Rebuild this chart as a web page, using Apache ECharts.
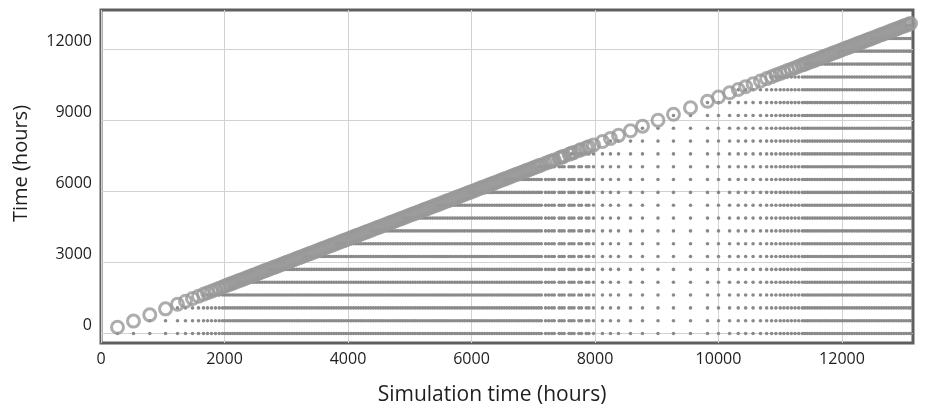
<!DOCTYPE html>
<html>
<head>
<meta charset="utf-8">
<script src="https://cdn.jsdelivr.net/npm/echarts@6/dist/echarts.min.js"></script>
<style>
  html, body { margin: 0; padding: 0; background: #fff; }
  #chart { width: 936px; height: 411px; }
</style>
</head>
<body>
<div id="chart"></div>
<script>
// Simulation times (hours) at which the state was recorded
const sampleTimes = [
  267, 526, 790, 1045, 1239, 1368, 1482, 1579, 1660, 1725, 1790, 1854, 1915, 1970,
  2010, 2050, 2090, 2130, 2170, 2210, 2250, 2290, 2330, 2370,
  2410, 2450, 2490, 2530, 2570, 2610, 2650, 2690, 2730, 2770,
  2810, 2850, 2890, 2930, 2970, 3010, 3050, 3090, 3130, 3170,
  3210, 3250, 3290, 3330, 3370, 3410, 3450, 3490, 3530, 3570,
  3610, 3650, 3690, 3730, 3770, 3810, 3850, 3890, 3930, 3970,
  4010, 4050, 4090, 4130, 4170, 4210, 4250, 4290, 4330, 4370,
  4410, 4450, 4490, 4530, 4570, 4610, 4650, 4690, 4730, 4770,
  4810, 4850, 4890, 4930, 4970, 5010, 5050, 5090, 5130, 5170,
  5210, 5250, 5290, 5330, 5370, 5410, 5450, 5490, 5530, 5570,
  5610, 5650, 5690, 5730, 5770, 5810, 5850, 5890, 5930, 5970,
  6010, 6050, 6090, 6130, 6170, 6210, 6250, 6290, 6330, 6370,
  6410, 6450, 6490, 6530, 6570, 6610, 6650, 6690, 6730, 6770,
  6810, 6850, 6890, 6930, 6970, 7010, 7050, 7090, 7130,
  7200, 7250, 7300, 7340, 7420, 7460, 7500, 7580, 7620, 7660, 7740, 7780, 7860, 7900, 7976,
  8121, 8251, 8381, 8575, 8769, 9020, 9271, 9547, 9822, 10000,
  10180, 10320, 10440, 10560, 10680, 10780, 10860, 10930, 11000, 11060,
  11120, 11180, 11240, 11300, 11360,
  11400, 11440, 11480, 11520, 11560, 11600, 11640, 11680, 11720, 11760,
  11800, 11840, 11880, 11920, 11960, 12000, 12040, 12080, 12120, 12160,
  12200, 12240, 12280, 12320, 12360, 12400, 12440, 12480, 12520, 12560,
  12600, 12640, 12680, 12720, 12760, 12800, 12840, 12880, 12920, 12960,
  13000, 13040, 13080, 13110
];

// Recorded time levels (hours)
const timeLevels = [
  0, 542, 1085, 1627, 2170, 2712, 3255, 3797, 4340, 4882, 5425, 5967, 6510,
  7052, 7595, 8137, 8680, 9222, 9765, 10307, 10850, 11392, 11935, 12477, 13020
];

// Axis tick values
const xTicks = [0, 2000, 4000, 6000, 8000, 10000, 12000];
const yTicks = [0, 3000, 6000, 9000, 12000];

// Current time at each sample: lies on the diagonal
const currentPoints = sampleTimes.map(t => [t, t]);

// Earlier time levels already reached at each sample
const levelPoints = [];
sampleTimes.forEach(t => {
  timeLevels.forEach(L => {
    if (L < t) levelPoints.push([t, L]);
  });
});

const chart = echarts.init(document.getElementById('chart'), null, { renderer: 'canvas' });

const textColor = '#1e1e1e';
const fontFamily = '"Open Sans", "Noto Sans", sans-serif';
const plain = v => String(v);

chart.setOption({
  animation: false,
  backgroundColor: '#ffffff',
  grid: {
    left: 101, right: 23, top: 10, bottom: 66,
    show: true, borderColor: '#5f5f5f', borderWidth: 3, backgroundColor: 'transparent'
  },
  xAxis: {
    type: 'value',
    min: 0,
    max: 13150,
    name: 'Simulation time (hours)',
    nameLocation: 'middle',
    nameGap: 42,
    nameTextStyle: { color: textColor, fontSize: 21, fontFamily, padding: [0, 30, 0, 0] },
    axisLine: { show: false },
    axisTick: { show: false, customValues: xTicks },
    axisLabel: {
      color: textColor, fontSize: 16, fontFamily, margin: 8,
      customValues: xTicks,
      formatter: plain
    },
    splitLine: { show: true, lineStyle: { color: '#d2d2d2', width: 1 } }
  },
  yAxis: {
    type: 'value',
    min: -400,
    max: 13680,
    name: 'Time (hours)',
    nameLocation: 'middle',
    nameGap: 70,
    nameRotate: 90,
    nameTextStyle: { color: textColor, fontSize: 20, fontFamily, padding: [0, 0, 0, 26] },
    axisLine: { show: false },
    axisTick: { show: false, customValues: yTicks },
    axisLabel: {
      color: textColor, fontSize: 16, fontFamily, margin: 9,
      customValues: yTicks,
      verticalAlign: 'bottom',
      formatter: plain
    },
    splitLine: { show: true, lineStyle: { color: '#d2d2d2', width: 1 } }
  },
  series: [
    {
      name: 'levels',
      type: 'scatter',
      data: levelPoints,
      symbol: 'circle',
      symbolSize: 3.6,
      itemStyle: { color: '#8a8a8a', opacity: 1 },
      silent: true,
      z: 2
    },
    {
      name: 'current',
      type: 'scatter',
      data: currentPoints,
      symbol: 'circle',
      symbolSize: 12,
      itemStyle: { color: 'rgba(255,255,255,0)', borderColor: '#999999', borderWidth: 3 },
      silent: true,
      z: 3
    }
  ]
});
</script>
</body>
</html>
